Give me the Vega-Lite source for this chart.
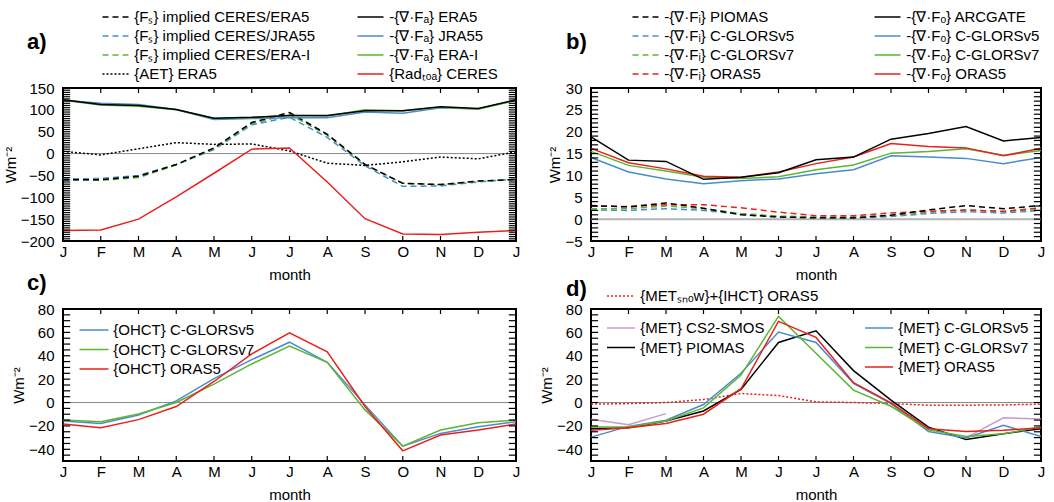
{
  "$schema": "https://vega.github.io/schema/vega-lite/v6.json",
  "padding": {"left": 2, "top": 8, "right": 0, "bottom": 0},
  "config": {
    "font": "Liberation Sans",
    "view": {"stroke": "black", "strokeWidth": 2},
    "axis": {"domain": false, "grid": false, "ticks": false, "labelFont": "Liberation Sans", "labelFontSize": 15, "labelColor": "black", "titleFont": "Liberation Sans", "titleFontSize": 15, "titleFontWeight": "normal", "titleColor": "black", "labelOverlap": false, "labelFlush": false, "labelBound": false},
    "legend": {"labelFont": "Liberation Sans", "labelFontSize": 15, "labelColor": "black", "labelLimit": 400, "symbolType": "M-2,0H2", "symbolStrokeWidth": 1.5, "symbolSize": 169, "labelOffset": 11.25, "rowPadding": 3, "orient": "none", "title": null},
    "title": {"font": "Liberation Sans", "fontSize": 22, "fontWeight": "bold", "color": "black", "anchor": "start", "frame": "group"},
    "line": {"strokeWidth": 1.5}
  },
  "datasets": {
    "a1": [
      {"m":0,"v":-58,"s":"{Fₛ} implied CERES/JRA55"},{"m":1,"v":-57,"s":"{Fₛ} implied CERES/JRA55"},{"m":2,"v":-50,"s":"{Fₛ} implied CERES/JRA55"},{"m":3,"v":-25,"s":"{Fₛ} implied CERES/JRA55"},{"m":4,"v":9,"s":"{Fₛ} implied CERES/JRA55"},{"m":5,"v":66,"s":"{Fₛ} implied CERES/JRA55"},{"m":6,"v":83,"s":"{Fₛ} implied CERES/JRA55"},{"m":7,"v":37,"s":"{Fₛ} implied CERES/JRA55"},{"m":8,"v":-28,"s":"{Fₛ} implied CERES/JRA55"},{"m":9,"v":-75,"s":"{Fₛ} implied CERES/JRA55"},{"m":10,"v":-74,"s":"{Fₛ} implied CERES/JRA55"},{"m":11,"v":-65,"s":"{Fₛ} implied CERES/JRA55"},{"m":12,"v":-58,"s":"{Fₛ} implied CERES/JRA55"},
      {"m":0,"v":-60,"s":"{Fₛ} implied CERES/ERA-I"},{"m":1,"v":-61,"s":"{Fₛ} implied CERES/ERA-I"},{"m":2,"v":-55,"s":"{Fₛ} implied CERES/ERA-I"},{"m":3,"v":-26,"s":"{Fₛ} implied CERES/ERA-I"},{"m":4,"v":12,"s":"{Fₛ} implied CERES/ERA-I"},{"m":5,"v":68,"s":"{Fₛ} implied CERES/ERA-I"},{"m":6,"v":90,"s":"{Fₛ} implied CERES/ERA-I"},{"m":7,"v":42,"s":"{Fₛ} implied CERES/ERA-I"},{"m":8,"v":-25,"s":"{Fₛ} implied CERES/ERA-I"},{"m":9,"v":-68,"s":"{Fₛ} implied CERES/ERA-I"},{"m":10,"v":-71,"s":"{Fₛ} implied CERES/ERA-I"},{"m":11,"v":-63,"s":"{Fₛ} implied CERES/ERA-I"},{"m":12,"v":-60,"s":"{Fₛ} implied CERES/ERA-I"},
      {"m":0,"v":-60,"s":"{Fₛ} implied CERES/ERA5"},{"m":1,"v":-60,"s":"{Fₛ} implied CERES/ERA5"},{"m":2,"v":-52,"s":"{Fₛ} implied CERES/ERA5"},{"m":3,"v":-25,"s":"{Fₛ} implied CERES/ERA5"},{"m":4,"v":13,"s":"{Fₛ} implied CERES/ERA5"},{"m":5,"v":71,"s":"{Fₛ} implied CERES/ERA5"},{"m":6,"v":94,"s":"{Fₛ} implied CERES/ERA5"},{"m":7,"v":44,"s":"{Fₛ} implied CERES/ERA5"},{"m":8,"v":-25,"s":"{Fₛ} implied CERES/ERA5"},{"m":9,"v":-68,"s":"{Fₛ} implied CERES/ERA5"},{"m":10,"v":-71,"s":"{Fₛ} implied CERES/ERA5"},{"m":11,"v":-63,"s":"{Fₛ} implied CERES/ERA5"},{"m":12,"v":-59,"s":"{Fₛ} implied CERES/ERA5"},
      {"m":0,"v":5,"s":"{AET} ERA5"},{"m":1,"v":-3,"s":"{AET} ERA5"},{"m":2,"v":11,"s":"{AET} ERA5"},{"m":3,"v":25,"s":"{AET} ERA5"},{"m":4,"v":21,"s":"{AET} ERA5"},{"m":5,"v":22,"s":"{AET} ERA5"},{"m":6,"v":6,"s":"{AET} ERA5"},{"m":7,"v":-22,"s":"{AET} ERA5"},{"m":8,"v":-27,"s":"{AET} ERA5"},{"m":9,"v":-19,"s":"{AET} ERA5"},{"m":10,"v":-8,"s":"{AET} ERA5"},{"m":11,"v":-12,"s":"{AET} ERA5"},{"m":12,"v":4,"s":"{AET} ERA5"}
    ],
    "a2": [
      {"m":0,"v":-176,"s":"{Radₜₒₐ} CERES"},{"m":1,"v":-175,"s":"{Radₜₒₐ} CERES"},{"m":2,"v":-150,"s":"{Radₜₒₐ} CERES"},{"m":3,"v":-99,"s":"{Radₜₒₐ} CERES"},{"m":4,"v":-45,"s":"{Radₜₒₐ} CERES"},{"m":5,"v":10,"s":"{Radₜₒₐ} CERES"},{"m":6,"v":13,"s":"{Radₜₒₐ} CERES"},{"m":7,"v":-65,"s":"{Radₜₒₐ} CERES"},{"m":8,"v":-149,"s":"{Radₜₒₐ} CERES"},{"m":9,"v":-184,"s":"{Radₜₒₐ} CERES"},{"m":10,"v":-185,"s":"{Radₜₒₐ} CERES"},{"m":11,"v":-180,"s":"{Radₜₒₐ} CERES"},{"m":12,"v":-176,"s":"{Radₜₒₐ} CERES"},
      {"m":0,"v":122,"s":"-{∇·Fₐ} JRA55"},{"m":1,"v":115,"s":"-{∇·Fₐ} JRA55"},{"m":2,"v":112,"s":"-{∇·Fₐ} JRA55"},{"m":3,"v":101,"s":"-{∇·Fₐ} JRA55"},{"m":4,"v":78,"s":"-{∇·Fₐ} JRA55"},{"m":5,"v":80,"s":"-{∇·Fₐ} JRA55"},{"m":6,"v":82,"s":"-{∇·Fₐ} JRA55"},{"m":7,"v":82,"s":"-{∇·Fₐ} JRA55"},{"m":8,"v":95,"s":"-{∇·Fₐ} JRA55"},{"m":9,"v":92,"s":"-{∇·Fₐ} JRA55"},{"m":10,"v":105,"s":"-{∇·Fₐ} JRA55"},{"m":11,"v":102,"s":"-{∇·Fₐ} JRA55"},{"m":12,"v":122,"s":"-{∇·Fₐ} JRA55"},
      {"m":0,"v":122,"s":"-{∇·Fₐ} ERA-I"},{"m":1,"v":111,"s":"-{∇·Fₐ} ERA-I"},{"m":2,"v":108,"s":"-{∇·Fₐ} ERA-I"},{"m":3,"v":100,"s":"-{∇·Fₐ} ERA-I"},{"m":4,"v":80,"s":"-{∇·Fₐ} ERA-I"},{"m":5,"v":82,"s":"-{∇·Fₐ} ERA-I"},{"m":6,"v":87,"s":"-{∇·Fₐ} ERA-I"},{"m":7,"v":86,"s":"-{∇·Fₐ} ERA-I"},{"m":8,"v":100,"s":"-{∇·Fₐ} ERA-I"},{"m":9,"v":98,"s":"-{∇·Fₐ} ERA-I"},{"m":10,"v":106,"s":"-{∇·Fₐ} ERA-I"},{"m":11,"v":102,"s":"-{∇·Fₐ} ERA-I"},{"m":12,"v":122,"s":"-{∇·Fₐ} ERA-I"},
      {"m":0,"v":123,"s":"-{∇·Fₐ} ERA5"},{"m":1,"v":112,"s":"-{∇·Fₐ} ERA5"},{"m":2,"v":110,"s":"-{∇·Fₐ} ERA5"},{"m":3,"v":101,"s":"-{∇·Fₐ} ERA5"},{"m":4,"v":81,"s":"-{∇·Fₐ} ERA5"},{"m":5,"v":83,"s":"-{∇·Fₐ} ERA5"},{"m":6,"v":87,"s":"-{∇·Fₐ} ERA5"},{"m":7,"v":87,"s":"-{∇·Fₐ} ERA5"},{"m":8,"v":98,"s":"-{∇·Fₐ} ERA5"},{"m":9,"v":98,"s":"-{∇·Fₐ} ERA5"},{"m":10,"v":107,"s":"-{∇·Fₐ} ERA5"},{"m":11,"v":103,"s":"-{∇·Fₐ} ERA5"},{"m":12,"v":123,"s":"-{∇·Fₐ} ERA5"}
    ],
    "b1": [
      {"m":0,"v":2.1,"s":"-{∇·Fᵢ} C-GLORSv5"},{"m":1,"v":2.0,"s":"-{∇·Fᵢ} C-GLORSv5"},{"m":2,"v":2.4,"s":"-{∇·Fᵢ} C-GLORSv5"},{"m":3,"v":2.0,"s":"-{∇·Fᵢ} C-GLORSv5"},{"m":4,"v":1.1,"s":"-{∇·Fᵢ} C-GLORSv5"},{"m":5,"v":0.5,"s":"-{∇·Fᵢ} C-GLORSv5"},{"m":6,"v":0.3,"s":"-{∇·Fᵢ} C-GLORSv5"},{"m":7,"v":0.2,"s":"-{∇·Fᵢ} C-GLORSv5"},{"m":8,"v":0.6,"s":"-{∇·Fᵢ} C-GLORSv5"},{"m":9,"v":1.3,"s":"-{∇·Fᵢ} C-GLORSv5"},{"m":10,"v":1.7,"s":"-{∇·Fᵢ} C-GLORSv5"},{"m":11,"v":1.4,"s":"-{∇·Fᵢ} C-GLORSv5"},{"m":12,"v":2.0,"s":"-{∇·Fᵢ} C-GLORSv5"},
      {"m":0,"v":2.4,"s":"-{∇·Fᵢ} C-GLORSv7"},{"m":1,"v":2.4,"s":"-{∇·Fᵢ} C-GLORSv7"},{"m":2,"v":3.0,"s":"-{∇·Fᵢ} C-GLORSv7"},{"m":3,"v":2.4,"s":"-{∇·Fᵢ} C-GLORSv7"},{"m":4,"v":1.3,"s":"-{∇·Fᵢ} C-GLORSv7"},{"m":5,"v":0.7,"s":"-{∇·Fᵢ} C-GLORSv7"},{"m":6,"v":0.5,"s":"-{∇·Fᵢ} C-GLORSv7"},{"m":7,"v":0.5,"s":"-{∇·Fᵢ} C-GLORSv7"},{"m":8,"v":0.8,"s":"-{∇·Fᵢ} C-GLORSv7"},{"m":9,"v":1.6,"s":"-{∇·Fᵢ} C-GLORSv7"},{"m":10,"v":2.1,"s":"-{∇·Fᵢ} C-GLORSv7"},{"m":11,"v":1.7,"s":"-{∇·Fᵢ} C-GLORSv7"},{"m":12,"v":2.2,"s":"-{∇·Fᵢ} C-GLORSv7"},
      {"m":0,"v":3.0,"s":"-{∇·Fᵢ} ORAS5"},{"m":1,"v":2.9,"s":"-{∇·Fᵢ} ORAS5"},{"m":2,"v":3.3,"s":"-{∇·Fᵢ} ORAS5"},{"m":3,"v":3.3,"s":"-{∇·Fᵢ} ORAS5"},{"m":4,"v":2.6,"s":"-{∇·Fᵢ} ORAS5"},{"m":5,"v":1.6,"s":"-{∇·Fᵢ} ORAS5"},{"m":6,"v":0.8,"s":"-{∇·Fᵢ} ORAS5"},{"m":7,"v":0.8,"s":"-{∇·Fᵢ} ORAS5"},{"m":8,"v":1.4,"s":"-{∇·Fᵢ} ORAS5"},{"m":9,"v":1.8,"s":"-{∇·Fᵢ} ORAS5"},{"m":10,"v":2.1,"s":"-{∇·Fᵢ} ORAS5"},{"m":11,"v":1.8,"s":"-{∇·Fᵢ} ORAS5"},{"m":12,"v":2.6,"s":"-{∇·Fᵢ} ORAS5"},
      {"m":0,"v":3.1,"s":"-{∇·Fᵢ} PIOMAS"},{"m":1,"v":2.8,"s":"-{∇·Fᵢ} PIOMAS"},{"m":2,"v":3.7,"s":"-{∇·Fᵢ} PIOMAS"},{"m":3,"v":2.5,"s":"-{∇·Fᵢ} PIOMAS"},{"m":4,"v":1.0,"s":"-{∇·Fᵢ} PIOMAS"},{"m":5,"v":0.5,"s":"-{∇·Fᵢ} PIOMAS"},{"m":6,"v":0.3,"s":"-{∇·Fᵢ} PIOMAS"},{"m":7,"v":0.3,"s":"-{∇·Fᵢ} PIOMAS"},{"m":8,"v":0.9,"s":"-{∇·Fᵢ} PIOMAS"},{"m":9,"v":2.1,"s":"-{∇·Fᵢ} PIOMAS"},{"m":10,"v":3.1,"s":"-{∇·Fᵢ} PIOMAS"},{"m":11,"v":2.4,"s":"-{∇·Fᵢ} PIOMAS"},{"m":12,"v":3.1,"s":"-{∇·Fᵢ} PIOMAS"}
    ],
    "b2": [
      {"m":0,"v":14.1,"s":"-{∇·Fₒ} C-GLORSv5"},{"m":1,"v":10.8,"s":"-{∇·Fₒ} C-GLORSv5"},{"m":2,"v":9.2,"s":"-{∇·Fₒ} C-GLORSv5"},{"m":3,"v":8.1,"s":"-{∇·Fₒ} C-GLORSv5"},{"m":4,"v":8.8,"s":"-{∇·Fₒ} C-GLORSv5"},{"m":5,"v":9.2,"s":"-{∇·Fₒ} C-GLORSv5"},{"m":6,"v":10.4,"s":"-{∇·Fₒ} C-GLORSv5"},{"m":7,"v":11.3,"s":"-{∇·Fₒ} C-GLORSv5"},{"m":8,"v":14.5,"s":"-{∇·Fₒ} C-GLORSv5"},{"m":9,"v":14.2,"s":"-{∇·Fₒ} C-GLORSv5"},{"m":10,"v":13.9,"s":"-{∇·Fₒ} C-GLORSv5"},{"m":11,"v":12.7,"s":"-{∇·Fₒ} C-GLORSv5"},{"m":12,"v":14.1,"s":"-{∇·Fₒ} C-GLORSv5"},
      {"m":0,"v":15.5,"s":"-{∇·Fₒ} C-GLORSv7"},{"m":1,"v":12.3,"s":"-{∇·Fₒ} C-GLORSv7"},{"m":2,"v":11.0,"s":"-{∇·Fₒ} C-GLORSv7"},{"m":3,"v":9.6,"s":"-{∇·Fₒ} C-GLORSv7"},{"m":4,"v":9.3,"s":"-{∇·Fₒ} C-GLORSv7"},{"m":5,"v":9.7,"s":"-{∇·Fₒ} C-GLORSv7"},{"m":6,"v":11.3,"s":"-{∇·Fₒ} C-GLORSv7"},{"m":7,"v":12.4,"s":"-{∇·Fₒ} C-GLORSv7"},{"m":8,"v":15.1,"s":"-{∇·Fₒ} C-GLORSv7"},{"m":9,"v":15.5,"s":"-{∇·Fₒ} C-GLORSv7"},{"m":10,"v":16.1,"s":"-{∇·Fₒ} C-GLORSv7"},{"m":11,"v":14.6,"s":"-{∇·Fₒ} C-GLORSv7"},{"m":12,"v":15.7,"s":"-{∇·Fₒ} C-GLORSv7"},
      {"m":0,"v":16.2,"s":"-{∇·Fₒ} ORAS5"},{"m":1,"v":12.9,"s":"-{∇·Fₒ} ORAS5"},{"m":2,"v":11.5,"s":"-{∇·Fₒ} ORAS5"},{"m":3,"v":9.8,"s":"-{∇·Fₒ} ORAS5"},{"m":4,"v":9.6,"s":"-{∇·Fₒ} ORAS5"},{"m":5,"v":10.8,"s":"-{∇·Fₒ} ORAS5"},{"m":6,"v":12.7,"s":"-{∇·Fₒ} ORAS5"},{"m":7,"v":14.2,"s":"-{∇·Fₒ} ORAS5"},{"m":8,"v":17.3,"s":"-{∇·Fₒ} ORAS5"},{"m":9,"v":16.6,"s":"-{∇·Fₒ} ORAS5"},{"m":10,"v":16.3,"s":"-{∇·Fₒ} ORAS5"},{"m":11,"v":14.5,"s":"-{∇·Fₒ} ORAS5"},{"m":12,"v":16.2,"s":"-{∇·Fₒ} ORAS5"},
      {"m":0,"v":18.8,"s":"-{∇·Fₒ} ARCGATE"},{"m":1,"v":13.5,"s":"-{∇·Fₒ} ARCGATE"},{"m":2,"v":13.2,"s":"-{∇·Fₒ} ARCGATE"},{"m":3,"v":9.1,"s":"-{∇·Fₒ} ARCGATE"},{"m":4,"v":9.6,"s":"-{∇·Fₒ} ARCGATE"},{"m":5,"v":10.6,"s":"-{∇·Fₒ} ARCGATE"},{"m":6,"v":13.6,"s":"-{∇·Fₒ} ARCGATE"},{"m":7,"v":14.2,"s":"-{∇·Fₒ} ARCGATE"},{"m":8,"v":18.3,"s":"-{∇·Fₒ} ARCGATE"},{"m":9,"v":19.6,"s":"-{∇·Fₒ} ARCGATE"},{"m":10,"v":21.2,"s":"-{∇·Fₒ} ARCGATE"},{"m":11,"v":17.9,"s":"-{∇·Fₒ} ARCGATE"},{"m":12,"v":18.7,"s":"-{∇·Fₒ} ARCGATE"}
    ],
    "c1": [
      {"m":0,"v":-15.8,"s":"{OHCT} C-GLORSv5"},{"m":1,"v":-18,"s":"{OHCT} C-GLORSv5"},{"m":2,"v":-10.6,"s":"{OHCT} C-GLORSv5"},{"m":3,"v":1.4,"s":"{OHCT} C-GLORSv5"},{"m":4,"v":20.4,"s":"{OHCT} C-GLORSv5"},{"m":5,"v":36.7,"s":"{OHCT} C-GLORSv5"},{"m":6,"v":51.6,"s":"{OHCT} C-GLORSv5"},{"m":7,"v":34.4,"s":"{OHCT} C-GLORSv5"},{"m":8,"v":-2,"s":"{OHCT} C-GLORSv5"},{"m":9,"v":-37.3,"s":"{OHCT} C-GLORSv5"},{"m":10,"v":-26.4,"s":"{OHCT} C-GLORSv5"},{"m":11,"v":-20.7,"s":"{OHCT} C-GLORSv5"},{"m":12,"v":-16.4,"s":"{OHCT} C-GLORSv5"},
      {"m":0,"v":-15,"s":"{OHCT} C-GLORSv7"},{"m":1,"v":-16.4,"s":"{OHCT} C-GLORSv7"},{"m":2,"v":-9.8,"s":"{OHCT} C-GLORSv7"},{"m":3,"v":0,"s":"{OHCT} C-GLORSv7"},{"m":4,"v":15.8,"s":"{OHCT} C-GLORSv7"},{"m":5,"v":33,"s":"{OHCT} C-GLORSv7"},{"m":6,"v":48.2,"s":"{OHCT} C-GLORSv7"},{"m":7,"v":34.4,"s":"{OHCT} C-GLORSv7"},{"m":8,"v":-6.3,"s":"{OHCT} C-GLORSv7"},{"m":9,"v":-37.3,"s":"{OHCT} C-GLORSv7"},{"m":10,"v":-23.5,"s":"{OHCT} C-GLORSv7"},{"m":11,"v":-17.2,"s":"{OHCT} C-GLORSv7"},{"m":12,"v":-15,"s":"{OHCT} C-GLORSv7"},
      {"m":0,"v":-18.4,"s":"{OHCT} ORAS5"},{"m":1,"v":-21.5,"s":"{OHCT} ORAS5"},{"m":2,"v":-14.6,"s":"{OHCT} ORAS5"},{"m":3,"v":-3.4,"s":"{OHCT} ORAS5"},{"m":4,"v":18,"s":"{OHCT} ORAS5"},{"m":5,"v":41.6,"s":"{OHCT} ORAS5"},{"m":6,"v":59.7,"s":"{OHCT} ORAS5"},{"m":7,"v":43.3,"s":"{OHCT} ORAS5"},{"m":8,"v":-3.4,"s":"{OHCT} ORAS5"},{"m":9,"v":-41.3,"s":"{OHCT} ORAS5"},{"m":10,"v":-27.8,"s":"{OHCT} ORAS5"},{"m":11,"v":-23.5,"s":"{OHCT} ORAS5"},{"m":12,"v":-18.4,"s":"{OHCT} ORAS5"}
    ],
    "d0": [
      {"m":0,"v":-1.4,"s":"{METₛₙₒw}+{IHCT} ORAS5"},{"m":1,"v":-0.9,"s":"{METₛₙₒw}+{IHCT} ORAS5"},{"m":2,"v":0,"s":"{METₛₙₒw}+{IHCT} ORAS5"},{"m":3,"v":2.6,"s":"{METₛₙₒw}+{IHCT} ORAS5"},{"m":4,"v":7.7,"s":"{METₛₙₒw}+{IHCT} ORAS5"},{"m":5,"v":6,"s":"{METₛₙₒw}+{IHCT} ORAS5"},{"m":6,"v":0.6,"s":"{METₛₙₒw}+{IHCT} ORAS5"},{"m":7,"v":0,"s":"{METₛₙₒw}+{IHCT} ORAS5"},{"m":8,"v":-0.9,"s":"{METₛₙₒw}+{IHCT} ORAS5"},{"m":9,"v":-2.3,"s":"{METₛₙₒw}+{IHCT} ORAS5"},{"m":10,"v":-2.3,"s":"{METₛₙₒw}+{IHCT} ORAS5"},{"m":11,"v":-2,"s":"{METₛₙₒw}+{IHCT} ORAS5"},{"m":12,"v":-1.4,"s":"{METₛₙₒw}+{IHCT} ORAS5"}
    ],
    "d1": [
      {"m":0,"v":-14.3,"s":"{MET} CS2-SMOS","g":1},{"m":1,"v":-18.9,"s":"{MET} CS2-SMOS","g":1},{"m":2,"v":-9.5,"s":"{MET} CS2-SMOS","g":1},
      {"m":10,"v":-30,"s":"{MET} CS2-SMOS","g":2},{"m":11,"v":-13,"s":"{MET} CS2-SMOS","g":2},{"m":12,"v":-14,"s":"{MET} CS2-SMOS","g":2},
      {"m":0,"v":-22.4,"s":"{MET} PIOMAS","g":3},{"m":1,"v":-21.5,"s":"{MET} PIOMAS","g":3},{"m":2,"v":-15.8,"s":"{MET} PIOMAS","g":3},{"m":3,"v":-7.2,"s":"{MET} PIOMAS","g":3},{"m":4,"v":11.2,"s":"{MET} PIOMAS","g":3},{"m":5,"v":51.4,"s":"{MET} PIOMAS","g":3},{"m":6,"v":61.4,"s":"{MET} PIOMAS","g":3},{"m":7,"v":27.3,"s":"{MET} PIOMAS","g":3},{"m":8,"v":2,"s":"{MET} PIOMAS","g":3},{"m":9,"v":-21,"s":"{MET} PIOMAS","g":3},{"m":10,"v":-31.6,"s":"{MET} PIOMAS","g":3},{"m":11,"v":-26.7,"s":"{MET} PIOMAS","g":3},{"m":12,"v":-22.4,"s":"{MET} PIOMAS","g":3}
    ],
    "d2": [
      {"m":0,"v":-29.6,"s":"{MET} C-GLORSv5"},{"m":1,"v":-20.4,"s":"{MET} C-GLORSv5"},{"m":2,"v":-15.2,"s":"{MET} C-GLORSv5"},{"m":3,"v":-1.7,"s":"{MET} C-GLORSv5"},{"m":4,"v":25,"s":"{MET} C-GLORSv5"},{"m":5,"v":60.3,"s":"{MET} C-GLORSv5"},{"m":6,"v":51.4,"s":"{MET} C-GLORSv5"},{"m":7,"v":16.4,"s":"{MET} C-GLORSv5"},{"m":8,"v":-1,"s":"{MET} C-GLORSv5"},{"m":9,"v":-24.7,"s":"{MET} C-GLORSv5"},{"m":10,"v":-30.4,"s":"{MET} C-GLORSv5"},{"m":11,"v":-19.5,"s":"{MET} C-GLORSv5"},{"m":12,"v":-29,"s":"{MET} C-GLORSv5"},
      {"m":0,"v":-21,"s":"{MET} C-GLORSv7"},{"m":1,"v":-21,"s":"{MET} C-GLORSv7"},{"m":2,"v":-15.8,"s":"{MET} C-GLORSv7"},{"m":3,"v":-4.6,"s":"{MET} C-GLORSv7"},{"m":4,"v":23.5,"s":"{MET} C-GLORSv7"},{"m":5,"v":73.7,"s":"{MET} C-GLORSv7"},{"m":6,"v":42.2,"s":"{MET} C-GLORSv7"},{"m":7,"v":10.6,"s":"{MET} C-GLORSv7"},{"m":8,"v":-3.2,"s":"{MET} C-GLORSv7"},{"m":9,"v":-23.2,"s":"{MET} C-GLORSv7"},{"m":10,"v":-29,"s":"{MET} C-GLORSv7"},{"m":11,"v":-26.7,"s":"{MET} C-GLORSv7"},{"m":12,"v":-21,"s":"{MET} C-GLORSv7"},
      {"m":0,"v":-23.8,"s":"{MET} ORAS5"},{"m":1,"v":-21.5,"s":"{MET} ORAS5"},{"m":2,"v":-18,"s":"{MET} ORAS5"},{"m":3,"v":-10,"s":"{MET} ORAS5"},{"m":4,"v":11.8,"s":"{MET} ORAS5"},{"m":5,"v":69.4,"s":"{MET} ORAS5"},{"m":6,"v":55.7,"s":"{MET} ORAS5"},{"m":7,"v":16.9,"s":"{MET} ORAS5"},{"m":8,"v":-0.3,"s":"{MET} ORAS5"},{"m":9,"v":-22.4,"s":"{MET} ORAS5"},{"m":10,"v":-24.7,"s":"{MET} ORAS5"},{"m":11,"v":-23.8,"s":"{MET} ORAS5"},{"m":12,"v":-21.5,"s":"{MET} ORAS5"}
    ]
  },
  "columns": 2,
  "bounds": "flush",
  "spacing": {"row": 68, "column": 75},
  "concat": [
    {
      "width": 453, "height": 153,
      "title": {"text": "a)", "dx": -36, "dy": 48},
      "layer": [
        {"data": {"values": [{"z": 0}]}, "mark": {"type": "rule", "color": "#888888", "strokeWidth": 1},
         "encoding": {"y": {"datum": 0, "type": "quantitative", "scale": {"domain": [-200, 150]}, "axis": null}}},
        {"data": {"name": "a1"}, "mark": "line",
         "encoding": {
           "x": {"field": "m", "type": "quantitative", "scale": {"domain": [0, 12]}, "axis": {"orient": "bottom", "values": [0,1,2,3,4,5,6,7,8,9,10,11,12], "labelPadding": 3, "labelExpr": "['J','F','M','A','M','J','J','A','S','O','N','D','J'][datum.value]", "title": "month", "titlePadding": 8}},
           "y": {"field": "v", "type": "quantitative", "scale": {"domain": [-200, 150]}, "axis": {"orient": "left", "values": [-200,-150,-100,-50,0,50,100,150], "labelPadding": 9, "title": "Wm⁻²", "titlePadding": 2}},
           "color": {"field": "s", "type": "nominal", "scale": {"domain": ["{Fₛ} implied CERES/ERA5","{Fₛ} implied CERES/JRA55","{Fₛ} implied CERES/ERA-I","{AET} ERA5"], "range": ["#000000","#4a8bd0","#5cb531","#000000"]}, "legend": {"legendX": 45, "legendY": -78.5}},
           "strokeDash": {"field": "s", "type": "nominal", "scale": {"domain": ["{Fₛ} implied CERES/ERA5","{Fₛ} implied CERES/JRA55","{Fₛ} implied CERES/ERA-I","{AET} ERA5"], "range": [[6,4],[6,4],[6,4],[2,2]]}, "legend": {"legendX": 45, "legendY": -78.5}}
         }},
        {"data": {"name": "a2"}, "mark": "line",
         "encoding": {
           "x": {"field": "m", "type": "quantitative", "axis": null},
           "y": {"field": "v", "type": "quantitative", "axis": null},
           "color": {"field": "s", "type": "nominal", "scale": {"domain": ["-{∇·Fₐ} ERA5","-{∇·Fₐ} JRA55","-{∇·Fₐ} ERA-I","{Radₜₒₐ} CERES"], "range": ["#000000","#4a8bd0","#5cb531","#e8211d"]}, "legend": {"legendX": 300, "legendY": -78.5}}
         }},
        {"data": {"values": [{"t":-200},{"t":-195},{"t":-190},{"t":-185},{"t":-180},{"t":-175},{"t":-170},{"t":-165},{"t":-160},{"t":-155},{"t":-150},{"t":-145},{"t":-140},{"t":-135},{"t":-130},{"t":-125},{"t":-120},{"t":-115},{"t":-110},{"t":-105},{"t":-100},{"t":-95},{"t":-90},{"t":-85},{"t":-80},{"t":-75},{"t":-70},{"t":-65},{"t":-60},{"t":-55},{"t":-50},{"t":-45},{"t":-40},{"t":-35},{"t":-30},{"t":-25},{"t":-20},{"t":-15},{"t":-10},{"t":-5},{"t":0},{"t":5},{"t":10},{"t":15},{"t":20},{"t":25},{"t":30},{"t":35},{"t":40},{"t":45},{"t":50},{"t":55},{"t":60},{"t":65},{"t":70},{"t":75},{"t":80},{"t":85},{"t":90},{"t":95},{"t":100},{"t":105},{"t":110},{"t":115},{"t":120},{"t":125},{"t":130},{"t":135},{"t":140},{"t":145},{"t":150}]},
         "layer": [
           {"mark": {"type": "rule", "color": "black", "strokeWidth": 1.2},
            "encoding": {"y": {"field": "t", "type": "quantitative", "axis": null}, "x": {"datum": 0, "type": "quantitative", "axis": null}, "x2": {"datum": 0.19}}},
           {"mark": {"type": "rule", "color": "black", "strokeWidth": 1.2},
            "encoding": {"y": {"field": "t", "type": "quantitative", "axis": null}, "x": {"datum": 11.81, "type": "quantitative", "axis": null}, "x2": {"datum": 12}}}
         ]},
        {"data": {"values": [{"t":0},{"t":1},{"t":2},{"t":3},{"t":4},{"t":5},{"t":6},{"t":7},{"t":8},{"t":9},{"t":10},{"t":11},{"t":12}]},
         "layer": [
           {"mark": {"type": "rule", "color": "black", "strokeWidth": 1.2},
            "encoding": {"x": {"field": "t", "type": "quantitative", "axis": null}, "y": {"datum": -200, "type": "quantitative", "axis": null}, "y2": {"datum": -188.5}}},
           {"mark": {"type": "rule", "color": "black", "strokeWidth": 1.2},
            "encoding": {"x": {"field": "t", "type": "quantitative", "axis": null}, "y": {"datum": 138.5, "type": "quantitative", "axis": null}, "y2": {"datum": 150}}}
         ]}
      ],
      "resolve": {"scale": {"color": "independent", "strokeDash": "independent"}, "axis": {"x": "independent", "y": "independent"}, "legend": {"color": "independent", "strokeDash": "independent"}}
    },
    {
      "width": 450, "height": 153,
      "title": {"text": "b)", "dx": -25, "dy": 48},
      "layer": [
        {"data": {"values": [{"z": 0}]}, "mark": {"type": "rule", "color": "#b4b4b4", "strokeWidth": 2},
         "encoding": {"y": {"datum": 0, "type": "quantitative", "scale": {"domain": [-5, 30]}, "axis": null}}},
        {"data": {"name": "b1"}, "mark": "line",
         "encoding": {
           "x": {"field": "m", "type": "quantitative", "scale": {"domain": [0, 12]}, "axis": {"orient": "bottom", "values": [0,1,2,3,4,5,6,7,8,9,10,11,12], "labelPadding": 3, "labelExpr": "['J','F','M','A','M','J','J','A','S','O','N','D','J'][datum.value]", "title": "month", "titlePadding": 8}},
           "y": {"field": "v", "type": "quantitative", "scale": {"domain": [-5, 30]}, "axis": {"orient": "left", "values": [-5,0,5,10,15,20,25,30], "labelPadding": 9, "title": "Wm⁻²", "titlePadding": 2}},
           "color": {"field": "s", "type": "nominal", "scale": {"domain": ["-{∇·Fᵢ} PIOMAS","-{∇·Fᵢ} C-GLORSv5","-{∇·Fᵢ} C-GLORSv7","-{∇·Fᵢ} ORAS5"], "range": ["#000000","#4a8bd0","#5cb531","#e8211d"]}, "legend": {"legendX": 47, "legendY": -78.5}},
           "strokeDash": {"field": "s", "type": "nominal", "scale": {"domain": ["-{∇·Fᵢ} PIOMAS","-{∇·Fᵢ} C-GLORSv5","-{∇·Fᵢ} C-GLORSv7","-{∇·Fᵢ} ORAS5"], "range": [[6,4],[6,4],[6,4],[6,4]]}, "legend": {"legendX": 47, "legendY": -78.5}}
         }},
        {"data": {"name": "b2"}, "mark": "line",
         "encoding": {
           "x": {"field": "m", "type": "quantitative", "axis": null},
           "y": {"field": "v", "type": "quantitative", "axis": null},
           "color": {"field": "s", "type": "nominal", "scale": {"domain": ["-{∇·Fₒ} ARCGATE","-{∇·Fₒ} C-GLORSv5","-{∇·Fₒ} C-GLORSv7","-{∇·Fₒ} ORAS5"], "range": ["#000000","#4a8bd0","#5cb531","#e8211d"]}, "legend": {"legendX": 289, "legendY": -78.5}}
         }},
        {"data": {"values": [{"t":-5},{"t":-4},{"t":-3},{"t":-2},{"t":-1},{"t":0},{"t":1},{"t":2},{"t":3},{"t":4},{"t":5},{"t":6},{"t":7},{"t":8},{"t":9},{"t":10},{"t":11},{"t":12},{"t":13},{"t":14},{"t":15},{"t":16},{"t":17},{"t":18},{"t":19},{"t":20},{"t":21},{"t":22},{"t":23},{"t":24},{"t":25},{"t":26},{"t":27},{"t":28},{"t":29},{"t":30}]},
         "layer": [
           {"mark": {"type": "rule", "color": "black", "strokeWidth": 1.2},
            "encoding": {"y": {"field": "t", "type": "quantitative", "axis": null}, "x": {"datum": 0, "type": "quantitative", "axis": null}, "x2": {"datum": 0.19}}},
           {"mark": {"type": "rule", "color": "black", "strokeWidth": 1.2},
            "encoding": {"y": {"field": "t", "type": "quantitative", "axis": null}, "x": {"datum": 11.81, "type": "quantitative", "axis": null}, "x2": {"datum": 12}}}
         ]},
        {"data": {"values": [{"t":0},{"t":1},{"t":2},{"t":3},{"t":4},{"t":5},{"t":6},{"t":7},{"t":8},{"t":9},{"t":10},{"t":11},{"t":12}]},
         "layer": [
           {"mark": {"type": "rule", "color": "black", "strokeWidth": 1.2},
            "encoding": {"x": {"field": "t", "type": "quantitative", "axis": null}, "y": {"datum": -5, "type": "quantitative", "axis": null}, "y2": {"datum": -3.85}}},
           {"mark": {"type": "rule", "color": "black", "strokeWidth": 1.2},
            "encoding": {"x": {"field": "t", "type": "quantitative", "axis": null}, "y": {"datum": 28.85, "type": "quantitative", "axis": null}, "y2": {"datum": 30}}}
         ]}
      ],
      "resolve": {"scale": {"color": "independent", "strokeDash": "independent"}, "axis": {"x": "independent", "y": "independent"}, "legend": {"color": "independent", "strokeDash": "independent"}}
    },
    {
      "width": 453, "height": 152,
      "title": {"text": "c)", "dx": -36, "dy": -3},
      "layer": [
        {"data": {"values": [{"z": 0}]}, "mark": {"type": "rule", "color": "#888888", "strokeWidth": 1},
         "encoding": {"y": {"datum": 0, "type": "quantitative", "scale": {"domain": [-50, 80]}, "axis": null}}},
        {"data": {"name": "c1"}, "mark": "line",
         "encoding": {
           "x": {"field": "m", "type": "quantitative", "scale": {"domain": [0, 12]}, "axis": {"orient": "bottom", "values": [0,1,2,3,4,5,6,7,8,9,10,11,12], "labelPadding": 3, "labelExpr": "['J','F','M','A','M','J','J','A','S','O','N','D','J'][datum.value]", "title": "month", "titlePadding": 8}},
           "y": {"field": "v", "type": "quantitative", "scale": {"domain": [-50, 80]}, "axis": {"orient": "left", "values": [-40,-20,0,20,40,60,80], "labelPadding": 9, "title": "Wm⁻²", "titlePadding": 2}},
           "color": {"field": "s", "type": "nominal", "scale": {"domain": ["{OHCT} C-GLORSv5","{OHCT} C-GLORSv7","{OHCT} ORAS5"], "range": ["#4a8bd0","#5cb531","#e8211d"]}, "legend": {"legendX": 23, "legendY": 13, "symbolSize": 210, "rowPadding": 3.5}}
         }},
        {"data": {"values": [{"t":-50},{"t":-45},{"t":-40},{"t":-35},{"t":-30},{"t":-25},{"t":-20},{"t":-15},{"t":-10},{"t":-5},{"t":0},{"t":5},{"t":10},{"t":15},{"t":20},{"t":25},{"t":30},{"t":35},{"t":40},{"t":45},{"t":50},{"t":55},{"t":60},{"t":65},{"t":70},{"t":75},{"t":80}]},
         "layer": [
           {"mark": {"type": "rule", "color": "black", "strokeWidth": 1.2},
            "encoding": {"y": {"field": "t", "type": "quantitative", "axis": null}, "x": {"datum": 0, "type": "quantitative", "axis": null}, "x2": {"datum": 0.19}}},
           {"mark": {"type": "rule", "color": "black", "strokeWidth": 1.2},
            "encoding": {"y": {"field": "t", "type": "quantitative", "axis": null}, "x": {"datum": 11.81, "type": "quantitative", "axis": null}, "x2": {"datum": 12}}}
         ]},
        {"data": {"values": [{"t":0},{"t":1},{"t":2},{"t":3},{"t":4},{"t":5},{"t":6},{"t":7},{"t":8},{"t":9},{"t":10},{"t":11},{"t":12}]},
         "layer": [
           {"mark": {"type": "rule", "color": "black", "strokeWidth": 1.2},
            "encoding": {"x": {"field": "t", "type": "quantitative", "axis": null}, "y": {"datum": -50, "type": "quantitative", "axis": null}, "y2": {"datum": -45.7}}},
           {"mark": {"type": "rule", "color": "black", "strokeWidth": 1.2},
            "encoding": {"x": {"field": "t", "type": "quantitative", "axis": null}, "y": {"datum": 75.7, "type": "quantitative", "axis": null}, "y2": {"datum": 80}}}
         ]}
      ],
      "resolve": {"scale": {"color": "independent"}, "axis": {"x": "independent", "y": "independent"}, "legend": {"color": "independent"}}
    },
    {
      "width": 450, "height": 152,
      "title": {"text": "d)", "dx": -25, "dy": 17},
      "layer": [
        {"data": {"values": [{"z": 0}]}, "mark": {"type": "rule", "color": "#888888", "strokeWidth": 1},
         "encoding": {"y": {"datum": 0, "type": "quantitative", "scale": {"domain": [-50, 80]}, "axis": null}}},
        {"data": {"name": "d0"}, "mark": "line",
         "encoding": {
           "x": {"field": "m", "type": "quantitative", "scale": {"domain": [0, 12]}, "axis": {"orient": "bottom", "values": [0,1,2,3,4,5,6,7,8,9,10,11,12], "labelPadding": 3, "labelExpr": "['J','F','M','A','M','J','J','A','S','O','N','D','J'][datum.value]", "title": "month", "titlePadding": 8}},
           "y": {"field": "v", "type": "quantitative", "scale": {"domain": [-50, 80]}, "axis": {"orient": "left", "values": [-40,-20,0,20,40,60,80], "labelPadding": 9, "title": "Wm⁻²", "titlePadding": 2}},
           "color": {"field": "s", "type": "nominal", "scale": {"domain": ["{METₛₙₒw}+{IHCT} ORAS5"], "range": ["#e8211d"]}, "legend": {"legendX": 22, "legendY": -21, "symbolSize": 196}},
           "strokeDash": {"field": "s", "type": "nominal", "scale": {"domain": ["{METₛₙₒw}+{IHCT} ORAS5"], "range": [[2,2]]}, "legend": {"legendX": 22, "legendY": -21, "symbolSize": 196}}
         }},
        {"data": {"name": "d1"}, "mark": "line",
         "encoding": {
           "x": {"field": "m", "type": "quantitative", "axis": null},
           "y": {"field": "v", "type": "quantitative", "axis": null},
           "detail": {"field": "g", "type": "nominal"},
           "color": {"field": "s", "type": "nominal", "scale": {"domain": ["{MET} CS2-SMOS","{MET} PIOMAS"], "range": ["#cc99cc","#000000"]}, "legend": {"legendX": 22, "legendY": 11, "symbolSize": 196, "rowPadding": 3.5}}
         }},
        {"data": {"name": "d2"}, "mark": "line",
         "encoding": {
           "x": {"field": "m", "type": "quantitative", "axis": null},
           "y": {"field": "v", "type": "quantitative", "axis": null},
           "color": {"field": "s", "type": "nominal", "scale": {"domain": ["{MET} C-GLORSv5","{MET} C-GLORSv7","{MET} ORAS5"], "range": ["#4a8bd0","#5cb531","#e8211d"]}, "legend": {"legendX": 280, "legendY": 11, "symbolSize": 196, "rowPadding": 3.5}}
         }},
        {"data": {"values": [{"t":-50},{"t":-45},{"t":-40},{"t":-35},{"t":-30},{"t":-25},{"t":-20},{"t":-15},{"t":-10},{"t":-5},{"t":0},{"t":5},{"t":10},{"t":15},{"t":20},{"t":25},{"t":30},{"t":35},{"t":40},{"t":45},{"t":50},{"t":55},{"t":60},{"t":65},{"t":70},{"t":75},{"t":80}]},
         "layer": [
           {"mark": {"type": "rule", "color": "black", "strokeWidth": 1.2},
            "encoding": {"y": {"field": "t", "type": "quantitative", "axis": null}, "x": {"datum": 0, "type": "quantitative", "axis": null}, "x2": {"datum": 0.19}}},
           {"mark": {"type": "rule", "color": "black", "strokeWidth": 1.2},
            "encoding": {"y": {"field": "t", "type": "quantitative", "axis": null}, "x": {"datum": 11.81, "type": "quantitative", "axis": null}, "x2": {"datum": 12}}}
         ]},
        {"data": {"values": [{"t":0},{"t":1},{"t":2},{"t":3},{"t":4},{"t":5},{"t":6},{"t":7},{"t":8},{"t":9},{"t":10},{"t":11},{"t":12}]},
         "layer": [
           {"mark": {"type": "rule", "color": "black", "strokeWidth": 1.2},
            "encoding": {"x": {"field": "t", "type": "quantitative", "axis": null}, "y": {"datum": -50, "type": "quantitative", "axis": null}, "y2": {"datum": -45.7}}},
           {"mark": {"type": "rule", "color": "black", "strokeWidth": 1.2},
            "encoding": {"x": {"field": "t", "type": "quantitative", "axis": null}, "y": {"datum": 75.7, "type": "quantitative", "axis": null}, "y2": {"datum": 80}}}
         ]}
      ],
      "resolve": {"scale": {"color": "independent", "strokeDash": "independent"}, "axis": {"x": "independent", "y": "independent"}, "legend": {"color": "independent", "strokeDash": "independent"}}
    }
  ]
}
